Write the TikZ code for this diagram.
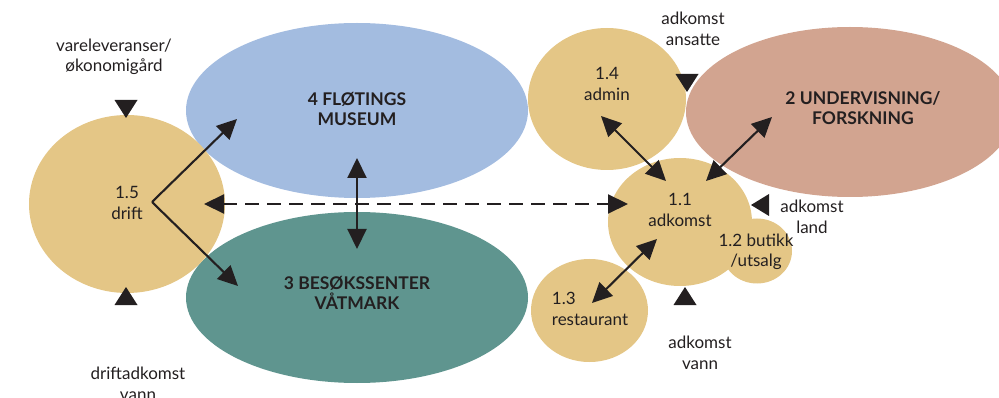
\documentclass[tikz,border=0pt]{standalone}
\usepackage{fontspec}
\setmainfont{Lato}
\usetikzlibrary{arrows.meta}
\definecolor{tan}{HTML}{E4C686}
\definecolor{skyb}{HTML}{A3BCE0}
\definecolor{tealg}{HTML}{5F958F}
\definecolor{rosec}{HTML}{D2A490}
\definecolor{ink}{HTML}{231F20}
\tikzset{
  lbl/.style={text=ink, font=\fontsize{17}{20.5}\selectfont, align=center, inner sep=0pt},
  big/.style={text=ink, font=\fontsize{17.5}{20}\selectfont\bfseries, align=center, inner sep=0pt},
  link/.style={draw=ink, line width=2.1pt, {Triangle[length=20pt,width=19pt]}-{Triangle[length=20pt,width=19pt]}},
  onelink/.style={draw=ink, line width=2.1pt, -{Triangle[length=20pt,width=19pt]}},
  tridown/.pic={\fill[ink] (-11.5,-9) -- (11.5,-9) -- (0,9) -- cycle;},
  triup/.pic={\fill[ink] (-11.5,9) -- (11.5,9) -- (0,-9) -- cycle;},
  trileft/.pic={\fill[ink] (9,-11) -- (9,11) -- (-9,0) -- cycle;},
}
\begin{document}
\begin{tikzpicture}[x=1pt,y=-1pt]
\useasboundingbox (0,0) rectangle (999,398);
\begin{scope}
\clip (0,0) rectangle (999,398);
% shapes
\fill[skyb] (357,110.5) ellipse [x radius=171, y radius=87.5];
\fill[tealg] (357,297.5) ellipse [x radius=171, y radius=85.5];
\fill[rosec] (850,112) ellipse [x radius=164, y radius=85];
\fill[tan] (127,204) ellipse [x radius=98, y radius=89];
\fill[tan] (607,99) ellipse [x radius=79, y radius=71];
\fill[tan] (757,251) ellipse [x radius=35, y radius=32.5];
\fill[tan] (680,222) ellipse [x radius=72, y radius=64];
\fill[tan] (589.5,310.5) ellipse [x radius=58.5, y radius=51.5];
\end{scope}
% named anchor coordinates
\coordinate (drift) at (152,202);
\coordinate (museumtip) at (237,119);
\coordinate (senterTip) at (238,286);
\coordinate (mtop) at (357,158);
\coordinate (mbot) at (357,249);
\coordinate (dl) at (204,204);
\coordinate (dr) at (628,204);
\coordinate (adminA) at (601,116);
\coordinate (adkA) at (666,181);
\coordinate (undA) at (772,117);
\coordinate (adkB) at (706,181);
\coordinate (adkC) at (657,239);
\coordinate (restA) at (592,303);
% texts
\node[lbl] (vare) at (114,57) {vareleveranser/\\økonomigård};
\node[lbl] (drifttxt) at (127,203) {1.5\\drift};
\node[lbl] (driftvann) at (138,384) {driftadkomst\\vann};
\node[big] (mus) at (357,109) {4 FLØTINGS\\MUSEUM};
\node[big] (bes) at (357,293) {3 BESØKSSENTER\\VÅTMARK};
\node[lbl] (admin) at (607,84) {1.4\\admin};
\node[lbl] (ansatte) at (693,29) {adkomst\\ansatte};
\node[big] (und) at (863,108) {2 UNDERVISNING/\\FORSKNING};
\node[lbl] (adk) at (680,210) {1.1\\adkomst};
\node[lbl] (butikk) at (756,252) {1.2 butikk\\/utsalg};
\node[lbl, align=left] (rest) at (590,309) {1.3\\restaurant};
\node[lbl] (vann) at (700,353) {adkomst\\vann};
\node[lbl] (land) at (812,217) {adkomst\\land};
% triangles
\pic at (126,109) {tridown};
\pic at (126,296) {triup};
\pic at (687,83) {tridown};
\pic at (685,296) {triup};
\pic at (760,205) {trileft};
% connectors
\draw[onelink] (drift) -- (museumtip);
\draw[onelink] (drift) -- (senterTip);
\draw[link] (mtop) -- (mbot);
\draw[link, dash pattern=on 14pt off 8pt] (dl) -- (dr);
\draw[link] (adminA) -- (adkA);
\draw[link] (undA) -- (adkB);
\draw[link] (adkC) -- (restA);
\end{tikzpicture}
\end{document}
